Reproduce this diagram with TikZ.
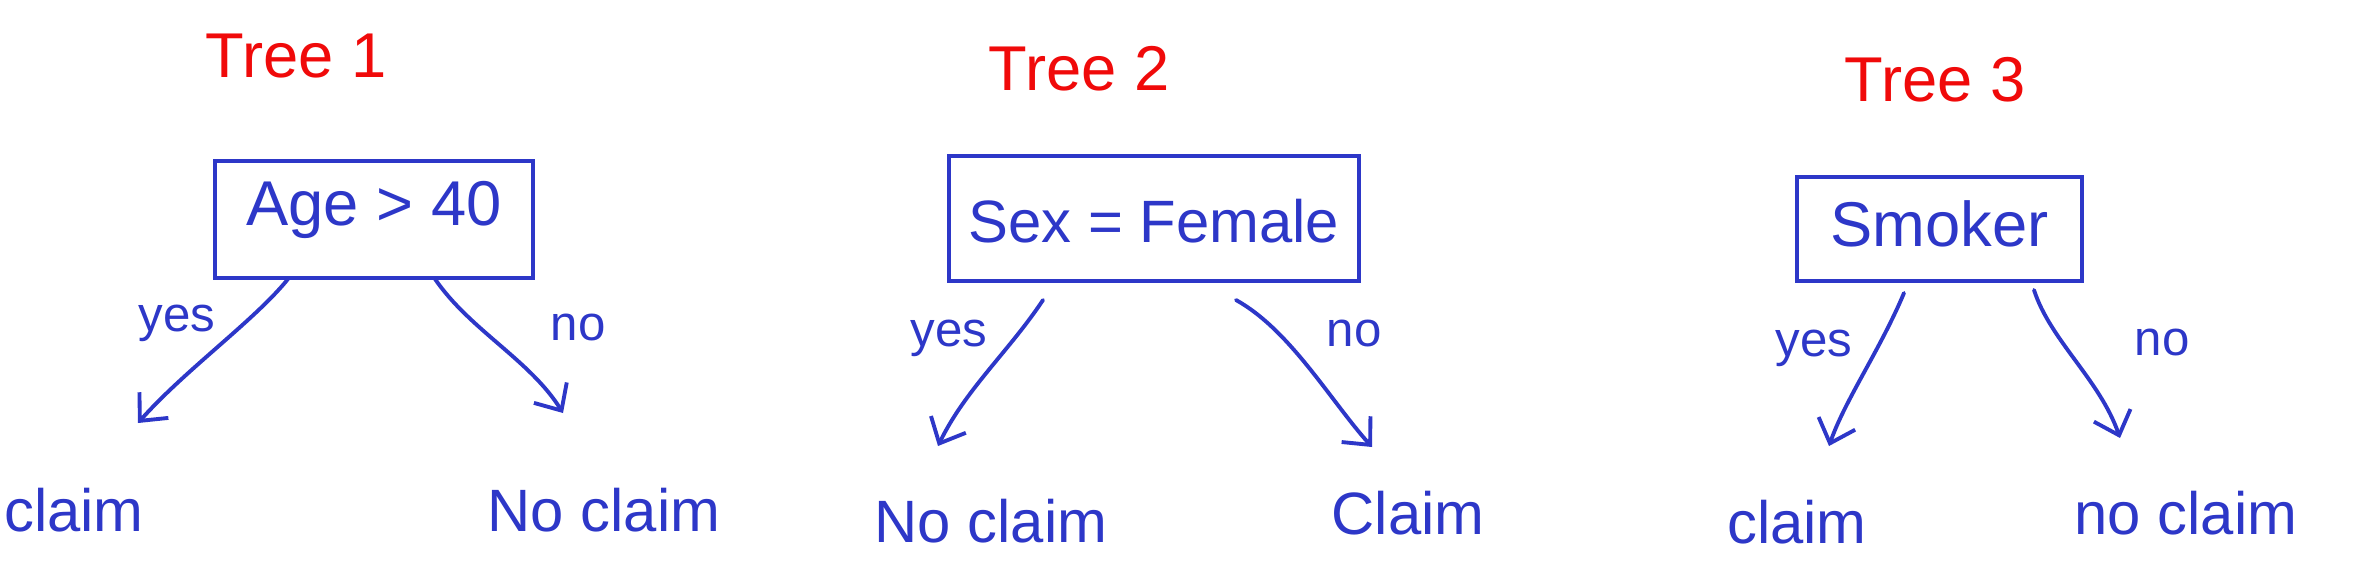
\documentclass[tikz,border=0pt]{standalone}
\usepackage{fontspec}
\setmainfont{Liberation Sans}
\usetikzlibrary{arrows.meta}
\definecolor{hblue}{RGB}{45,55,200}
\definecolor{hred}{RGB}{240,10,10}
\begin{document}
\begin{tikzpicture}[x=0.01cm,y=-0.01cm,
  treetitle/.style={text=hred,font=\fontsize{18}{20}\selectfont},
  decision/.style={draw=hblue,line width=1.1pt,text=hblue,font=\fontsize{18}{20}\selectfont,inner xsep=0pt,inner ysep=0pt},
  leaf/.style={text=hblue,font=\fontsize{17}{20}\selectfont},
  lab/.style={text=hblue,font=\fontsize{14}{16}\selectfont},
  branch/.style={draw=hblue,line width=1.1pt,line cap=round,-{Straight Barb[length=6pt,width=11pt]}}]
\fill[white] (0,0) rectangle (2354,569);
\useasboundingbox (0,0) rectangle (2354,569);

% titles
\node[treetitle] (t1) at (296,56) {Tree 1};
\node[treetitle] (t2) at (1079,69) {Tree 2};
\node[treetitle] (t3) at (1935,80) {Tree 3};

% decision boxes
\node[decision,minimum width=3.18cm,text height=0.64cm,text depth=0.53cm] (b1) at (374,219.5) {Age > 40};
\node[decision,minimum width=4.10cm,text height=0.86cm,text depth=0.39cm,font=\fontsize{17}{20}\selectfont] (b2) at (1154,218.5) {Sex = Female};
\node[decision,minimum width=2.85cm,text height=0.69cm,text depth=0.35cm] (b3) at (1939.5,229) {Smoker};

% leaves
\node[leaf] (l1a) at (74,510) {claim};
\node[leaf] (l1b) at (604,510) {No claim};
\node[leaf] (l2a) at (991,521) {No claim};
\node[leaf] (l2b) at (1408,513) {Claim};
\node[leaf] (l3a) at (1797,522) {claim};
\node[leaf] (l3b) at (2186,513) {no claim};

% branch end points
\coordinate (y1s) at (288,279); \coordinate (y1e) at (138,423);
\coordinate (n1s) at (435,279); \coordinate (n1e) at (563,413);
\coordinate (y2s) at (1043,300); \coordinate (y2e) at (938,446);
\coordinate (n2s) at (1236,300); \coordinate (n2e) at (1372,447);
\coordinate (y3s) at (1904,293); \coordinate (y3e) at (1829,446);
\coordinate (n3s) at (2034,290); \coordinate (n3e) at (2120,438);

% branches
\draw[branch] (y1s) .. controls (255,320) and (185,370) .. (y1e);
\draw[branch] (n1s) .. controls (470,330) and (530,360) .. (n1e);
\draw[branch] (y2s) .. controls (1010,350) and (965,390) .. (y2e);
\draw[branch] (n2s) .. controls (1290,330) and (1330,400) .. (n2e);
\draw[branch] (y3s) .. controls (1880,350) and (1845,400) .. (y3e);
\draw[branch] (n3s) .. controls (2050,340) and (2100,380) .. (n3e);

% branch labels
\node[lab] (ly1) at (177,323) {yes};
\node[lab] (ln1) at (578,327) {no};
\node[lab] (ly2) at (949,338) {yes};
\node[lab] (ln2) at (1354,333) {no};
\node[lab] (ly3) at (1814,348) {yes};
\node[lab] (ln3) at (2162,342) {no};
\end{tikzpicture}
\end{document}
